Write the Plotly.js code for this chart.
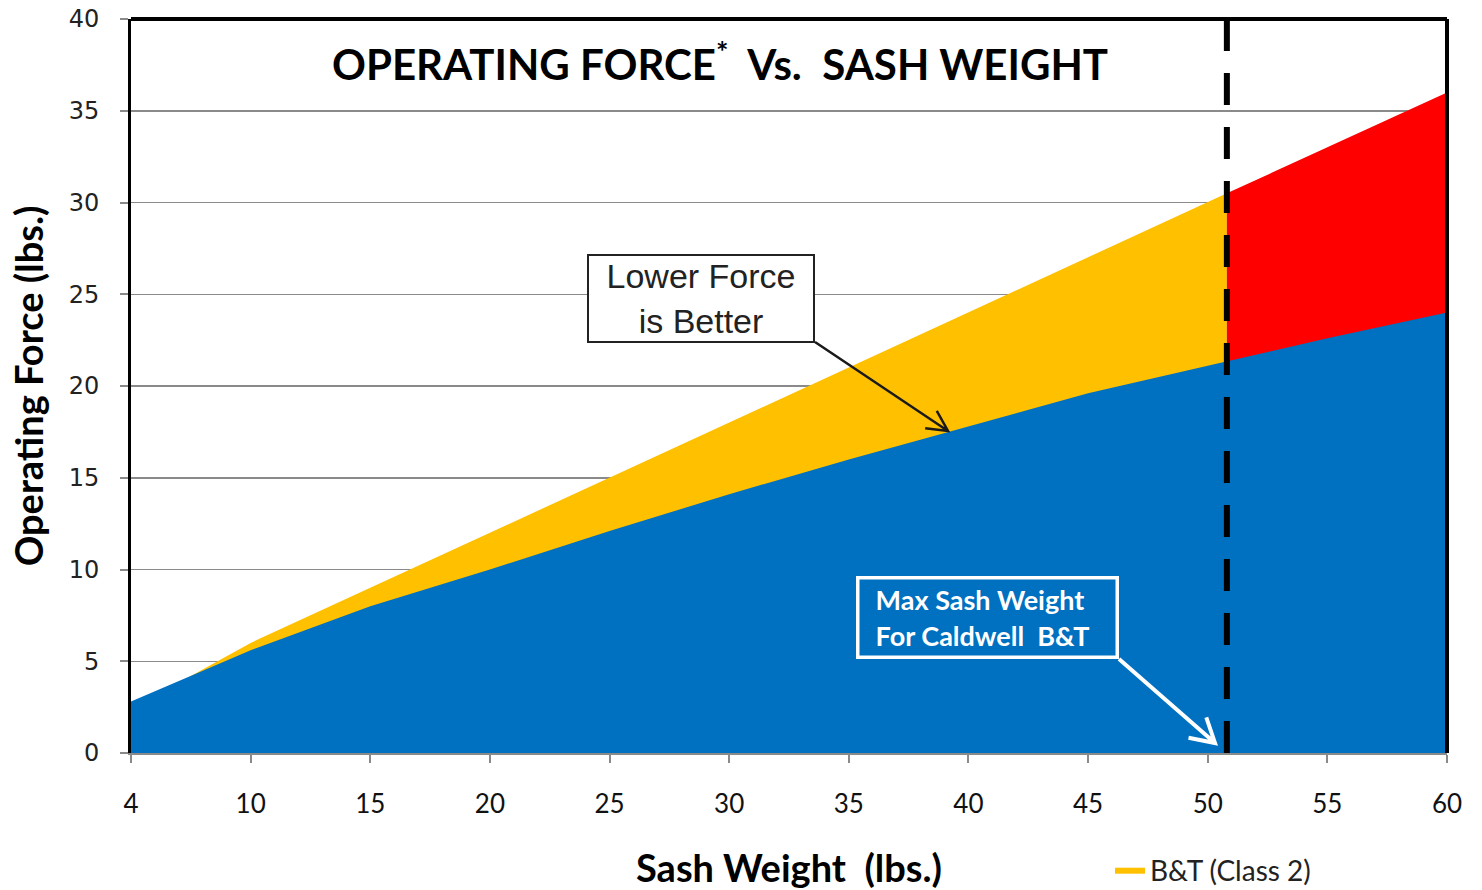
<!DOCTYPE html>
<html>
<head>
<meta charset="utf-8">
<script src="https://cdn.plot.ly/plotly-3.0.1.min.js"></script>
<style>html,body{margin:0;padding:0;background:#fff;}#chart{width:1482px;height:890px;}</style>
</head>
<body>
<div id="chart"></div>
<script>
// ---- data ----
const tickWeights = [4, 10, 15, 20, 25, 30, 35, 40, 45, 50, 55, 60];
const tickLabels  = ['4', '10', '15', '20', '25', '30', '35', '40', '45', '50', '55', '60'];

// blue series (drawn in front)
const blueWeights = [4, 10, 15, 20, 25, 30, 35, 40, 45, 50, 55, 60];
const blueForce   = [2.8, 5.6, 8.0, 10.0, 12.1, 14.1, 16.0, 17.8, 19.6, 21.1, 22.6, 24.0];

// B&T (Class 2) up to the max sash weight
const maxSashWeight = 50.8;
const btWeights = [4, 10, 15, 20, 25, 30, 35, 40, 45, 50, 50.8];
const btForce   = [2.4, 6, 9, 12, 15, 18, 21, 24, 27, 30, 30.5];

// beyond the max sash weight
const overWeights = [50.8, 55, 60];
const overForce   = [30.5, 33, 36];

// The reference uses an evenly spaced category axis (4, 10, 15, ... 60);
// map a weight onto that axis position.
function catPos(w) {
  for (let i = 0; i < tickWeights.length - 1; i++) {
    const a = tickWeights[i], b = tickWeights[i + 1];
    if (w <= b) return i + (w - a) / (b - a);
  }
  return tickWeights.length - 1;
}
const pos = arr => arr.map(catPos);

const traces = [
  {
    x: pos(btWeights), y: btForce, name: 'B&T (Class 2)', type: 'scatter', mode: 'lines',
    fill: 'tozeroy', fillcolor: '#FFC000', line: {width: 0, color: '#FFC000'}, showlegend: true
  },
  {
    x: pos(overWeights), y: overForce, name: 'Over max', type: 'scatter', mode: 'lines',
    fill: 'tozeroy', fillcolor: '#FF0000', line: {width: 0, color: '#FF0000'}, showlegend: false
  },
  {
    x: pos(blueWeights), y: blueForce, name: 'Caldwell', type: 'scatter', mode: 'lines',
    fill: 'tozeroy', fillcolor: '#0070C0', line: {width: 0, color: '#0070C0'}, showlegend: false
  }
];

// ---- layout geometry ----
const W = 1482, H = 890;
const M = {l: 131, r: 35, t: 19, b: 137, autoexpand: false};
const PW = W - M.l - M.r, PH = H - M.t - M.b;
const px2paperX = px => (px - M.l) / PW;
const py2paperY = py => (H - M.b - py) / PH;

// arrow path (shaft + open V head) in paper coordinates, from pixel points
function arrowPath(tail, tip, len, angDeg) {
  const dx = tail[0] - tip[0], dy = tail[1] - tip[1];
  const L = Math.hypot(dx, dy), ux = dx / L, uy = dy / L;
  const a = angDeg * Math.PI / 180;
  const r1 = [ux * Math.cos(a) - uy * Math.sin(a), ux * Math.sin(a) + uy * Math.cos(a)];
  const r2 = [ux * Math.cos(-a) - uy * Math.sin(-a), ux * Math.sin(-a) + uy * Math.cos(-a)];
  const P = p => px2paperX(p[0]).toFixed(5) + ',' + py2paperY(p[1]).toFixed(5);
  const h1 = [tip[0] + r1[0] * len, tip[1] + r1[1] * len];
  const h2 = [tip[0] + r2[0] * len, tip[1] + r2[1] * len];
  return 'M' + P(tail) + ' L' + P(tip) + ' M' + P(h1) + ' L' + P(tip) + ' L' + P(h2);
}

const gridGray = '#8a8a8a';

const layout = {
  width: W, height: H,
  margin: M,
  paper_bgcolor: '#ffffff', plot_bgcolor: '#ffffff',
  title: {
    text: 'OPERATING FORCE<sup>*</sup>\u00a0 Vs.\u00a0\u00a0SASH WEIGHT',
    font: {family: 'Lato', size: 42, color: '#000', weight: 'bold'},
    xref: 'paper', x: px2paperX(720), xanchor: 'center',
    yref: 'container', y: 1 - 65 / H, yanchor: 'middle'
  },
  showlegend: true,
  legend: {
    orientation: 'h',
    xref: 'paper', yref: 'paper',
    x: px2paperX(1110), xanchor: 'left', y: py2paperY(870), yanchor: 'middle',
    font: {family: 'Lato', size: 28, color: '#222'}, bgcolor: 'rgba(0,0,0,0)',
    itemwidth: 30
  },
  xaxis: {
    range: [0, tickWeights.length - 1],
    tickvals: tickWeights.map((w, i) => i), ticktext: tickLabels,
    ticks: 'outside', ticklen: 8, tickwidth: 2, tickcolor: gridGray,
    showline: true, linecolor: gridGray, linewidth: 2,
    showgrid: false, zeroline: false,
    tickfont: {family: 'Lato', size: 26, color: '#111'},
    ticklabelstandoff: 19,
    title: {text: 'Sash Weight\u00a0 (lbs.)', font: {family: 'Lato', size: 38, color: '#000', weight: 'bold'}, standoff: 37}
  },
  yaxis: {
    range: [0, 40], dtick: 5,
    ticks: 'outside', ticklen: 8, tickwidth: 2, tickcolor: gridGray,
    showline: true, linecolor: '#000', linewidth: 3,
    showgrid: true, gridcolor: gridGray, gridwidth: 1.5,
    zeroline: false,
    tickfont: {family: 'DejaVu Sans', size: 24, color: '#222'},
    ticklabelstandoff: 16,
    title: {text: 'Operating Force (lbs.)', font: {family: 'Lato', size: 38, color: '#000', weight: 'bold'}, standoff: 14}
  },
  shapes: [
    {type: 'line', xref: 'paper', yref: 'paper', x0: 0, x1: 1, y0: 1, y1: 1, line: {color: '#000', width: 4}},
    {type: 'line', xref: 'paper', yref: 'paper', x0: 1, x1: 1, y0: 0, y1: 1, line: {color: '#000', width: 4}},
    {type: 'line', xref: 'x', yref: 'paper', x0: catPos(maxSashWeight), x1: catPos(maxSashWeight), y0: 0, y1: 1,
     line: {color: '#000', width: 6, dash: '32px,22px'}},
    {type: 'path', xref: 'paper', yref: 'paper', path: arrowPath([815, 342], [948, 431], 23, 27),
     line: {color: '#1a1a1a', width: 2.5}},
    {type: 'path', xref: 'paper', yref: 'paper', path: arrowPath([1119, 659], [1215, 743], 27, 30),
     line: {color: '#ffffff', width: 4}}
  ],
  annotations: [
    {
      xref: 'paper', yref: 'paper', x: px2paperX(701), y: py2paperY(298),
      xanchor: 'center', yanchor: 'middle', showarrow: false,
      text: 'Lower Force<br>is Better', align: 'center',
      font: {family: 'Liberation Sans', size: 34, color: '#222'},
      bgcolor: '#ffffff', bordercolor: '#222', borderwidth: 2, borderpad: 1,
      width: 222, height: 83
    },
    {
      xref: 'paper', yref: 'paper', x: px2paperX(987.5), y: py2paperY(617.5),
      xanchor: 'center', yanchor: 'middle', showarrow: false,
      text: '\u00a0\u00a0Max Sash Weight<br>\u00a0\u00a0For Caldwell\u00a0 B&amp;T', align: 'left',
      font: {family: 'Lato', size: 27, color: '#ffffff', weight: 'bold'},
      bgcolor: '#0070C0', bordercolor: '#ffffff', borderwidth: 3.5, borderpad: 3,
      width: 250, height: 70
    }
  ]
};

Plotly.newPlot('chart', traces, layout, {displayModeBar: false, staticPlot: true});
</script>
</body>
</html>
